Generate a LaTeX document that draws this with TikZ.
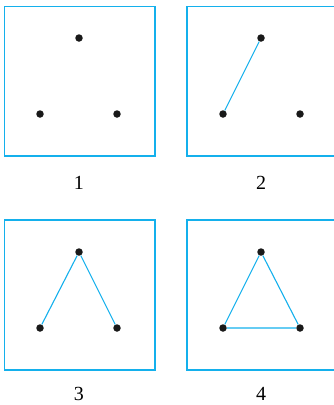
\documentclass[tikz,border=0pt]{standalone}
\usepackage{fontspec}
\setmainfont{Liberation Serif}
\definecolor{cy}{RGB}{20,176,236}
\begin{document}
\begin{tikzpicture}[x=1pt,y=-1pt,
  panel/.style={draw=cy,line width=1.4pt},
  dot/.style={circle,fill=black!90,inner sep=0pt,minimum size=7.5pt},
  edge/.style={draw=cy,line width=1.1pt},
  lab/.style={font=\fontsize{20}{20}\selectfont,anchor=base,inner sep=0pt}]
\useasboundingbox (0,0) rectangle (334,405);
\begin{scope}
\clip (0,0) rectangle (334,405);
\draw[panel] (4.5,6.5) rectangle (155,156);
\draw[panel] (187,6.5) rectangle (338,156);
\draw[panel] (4.5,220) rectangle (155,370);
\draw[panel] (187,220) rectangle (338,370);
\end{scope}
% panel 1
\node[dot] (a1) at (79,38) {};
\node[dot] (b1) at (40,114) {};
\node[dot] (c1) at (117,114) {};
\node[lab] (l1) at (79,189) {1};
% panel 2
\node[dot] (a2) at (261,38) {};
\node[dot] (b2) at (223,114) {};
\node[dot] (c2) at (300,114) {};
\draw[edge] (a2) -- (b2);
\node[lab] (l2) at (261,189) {2};
% panel 3
\node[dot] (a3) at (79,252) {};
\node[dot] (b3) at (40,328) {};
\node[dot] (c3) at (117,328) {};
\draw[edge] (b3) -- (a3) -- (c3);
\node[lab] (l3) at (79,400) {3};
% panel 4
\node[dot] (a4) at (261,252) {};
\node[dot] (b4) at (223,328) {};
\node[dot] (c4) at (300,328) {};
\draw[edge] (b4) -- (a4) -- (c4) -- (b4);
\node[lab] (l4) at (261,400) {4};
\end{tikzpicture}
\end{document}
